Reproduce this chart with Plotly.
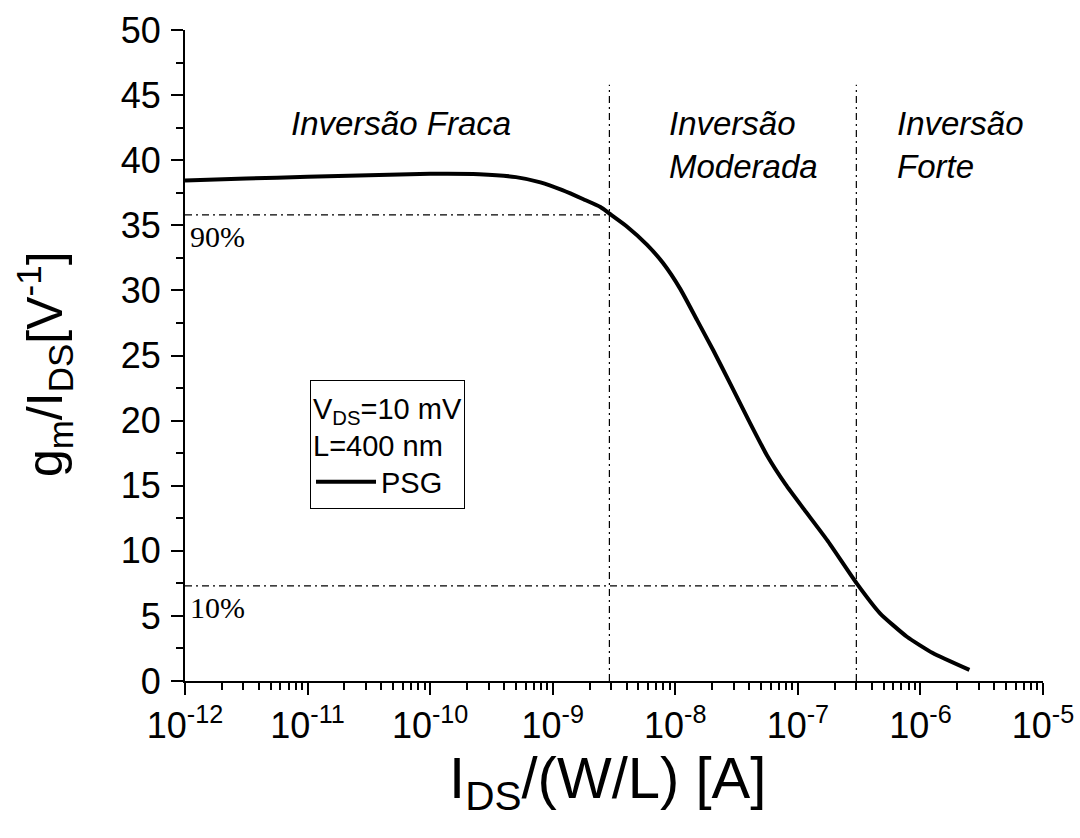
import plotly.graph_objects as go

# ---- data ----
ids_wl = [1e-12, 3.16e-12, 1e-11, 3.16e-11, 1e-10, 2.51e-10, 5.01e-10, 7.94e-10, 1.2e-9,
          1.78e-9, 2.45e-9, 2.95e-9, 3.98e-9, 5.89e-9, 7.94e-9, 1.1e-8, 1.51e-8,
          2.04e-8, 2.82e-8, 3.98e-8, 5.62e-8, 7.94e-8, 1.12e-7, 1.74e-7, 3.02e-7,
          4.68e-7, 7.76e-7, 1.26e-6, 2.51e-6]
gm_ids = [38.45, 38.6, 38.72, 38.85, 38.95, 38.92, 38.7, 38.3, 37.7,
          37.0, 36.4, 35.85, 34.95, 33.5, 32.1, 30.1, 27.7,
          25.4, 22.8, 20.0, 17.3, 15.1, 13.2, 10.8, 7.5,
          5.2, 3.4, 2.15, 0.85]

x_tick_vals = [1e-12, 1e-11, 1e-10, 1e-9, 1e-8, 1e-7, 1e-6, 1e-5]
x_tick_text = ["10<sup>-12</sup>", "10<sup>-11</sup>", "10<sup>-10</sup>", "10<sup>-9</sup>",
               "10<sup>-8</sup>", "10<sup>-7</sup>", "10<sup>-6</sup>", "10<sup>-5</sup>"]

# reference levels
y90 = 35.8
y10 = 7.3
x_weak_mod = 2.9e-9
x_mod_strong = 3.0e-7
vline_top = 45.8

region_labels = ["Inversão Fraca", "Inversão<br>Moderada", "Inversão<br>Forte"]
region_log_x = [-11.15, -8.07, -6.21]   # annotation x on a log axis is given as log10
region_y = 44.4

x_title = "I<sub>DS</sub>/(W/L) [A]"
y_title = "g<sub>m</sub>/I<sub>DS</sub>[V<sup>-1</sup>]"

FONT = "Liberation Sans, Arial, Helvetica, sans-serif"
SERIF = "Liberation Serif, Times New Roman, serif"
DASH = "7px,4px,2px,4px"

fig = go.Figure()
fig.add_trace(go.Scatter(x=ids_wl, y=gm_ids, mode="lines", name="PSG",
                         line=dict(color="black", width=4, shape="spline", smoothing=0.5)))

# dash-dot guide lines
guide = dict(color="black", width=1.2, dash=DASH)
fig.add_shape(type="line", xref="x", yref="y", x0=1e-12, x1=x_weak_mod, y0=y90, y1=y90, line=guide)
fig.add_shape(type="line", xref="x", yref="y", x0=1e-12, x1=x_mod_strong, y0=y10, y1=y10, line=guide)
fig.add_shape(type="line", xref="x", yref="y", x0=x_weak_mod, x1=x_weak_mod, y0=0, y1=vline_top, line=guide)
fig.add_shape(type="line", xref="x", yref="y", x0=x_mod_strong, x1=x_mod_strong, y0=0, y1=vline_top, line=guide)

# region labels
for txt, xv in zip(region_labels, region_log_x):
    fig.add_annotation(x=xv, y=region_y, xref="x", yref="y", text="<i>" + txt + "</i>",
                       showarrow=False, xanchor="left", yanchor="top", align="left",
                       font=dict(family=FONT, size=33, color="black"))

# percentage labels
fig.add_annotation(x=-12, y=y90, xref="x", yref="y", text="90%", showarrow=False,
                   xanchor="left", yanchor="top", xshift=3, yshift=-3,
                   font=dict(family=SERIF, size=30, color="black"))
fig.add_annotation(x=-12, y=y10, xref="x", yref="y", text="10%", showarrow=False,
                   xanchor="left", yanchor="top", xshift=3, yshift=-3,
                   font=dict(family=SERIF, size=30, color="black"))

# axis titles
fig.add_annotation(x=0.492, y=-0.095, xref="paper", yref="paper", text=x_title, showarrow=False,
                   xanchor="center", yanchor="top", font=dict(family=FONT, size=58, color="black"))
fig.add_annotation(x=-0.163, y=0.487, xref="paper", yref="paper", text=y_title, showarrow=False,
                   textangle=-90, xanchor="center", yanchor="middle",
                   font=dict(family=FONT, size=50, color="black"))

fig.update_layout(
    width=1080, height=838,
    margin=dict(l=185, r=37, t=30, b=157),
    paper_bgcolor="white", plot_bgcolor="white",
    font=dict(family=FONT, color="black"),
    showlegend=True,
    legend=dict(
        x=0.1457, y=0.4624, xanchor="left", yanchor="top",
        bordercolor="black", borderwidth=1, bgcolor="white",
        font=dict(family=FONT, size=29, color="black"),
        title=dict(text="V<sub>DS</sub>=10 mV<br>L=400 nm", font=dict(family=FONT, size=29, color="black")),
        itemwidth=60,
    ),
    xaxis=dict(
        type="log", range=[-12, -5], automargin=False,
        tickvals=x_tick_vals, ticktext=x_tick_text,
        ticks="outside", ticklen=12, tickwidth=2, tickcolor="black",
        showline=True, linecolor="black", linewidth=2, mirror=False,
        showgrid=False, zeroline=False,
        tickfont=dict(family=FONT, size=36, color="black"),
        minor=dict(ticks="outside", ticklen=7, tickwidth=2, tickcolor="black", dtick="D1", showgrid=False),
    ),
    yaxis=dict(
        range=[0, 50], dtick=5, tick0=0, automargin=False,
        ticks="outside", ticklen=12, tickwidth=2, tickcolor="black",
        showline=True, linecolor="black", linewidth=2, mirror=False,
        showgrid=False, zeroline=False,
        tickfont=dict(family=FONT, size=36, color="black"),
        ticklabelstandoff=3,
        minor=dict(ticks="outside", ticklen=7, tickwidth=2, tickcolor="black", dtick=2.5, showgrid=False),
    ),
)

fig.write_html("out.html")
